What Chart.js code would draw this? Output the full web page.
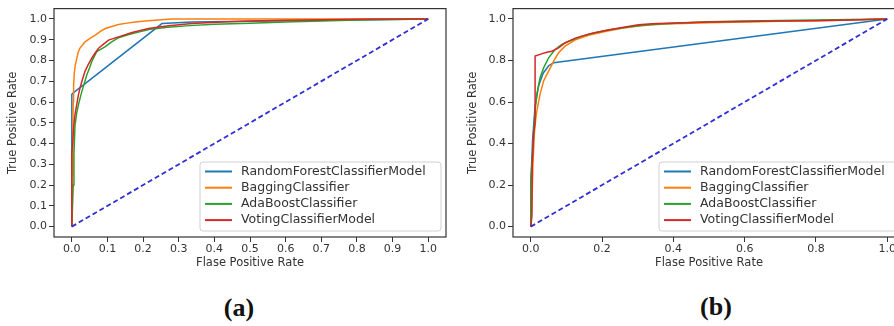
<!DOCTYPE html>
<html>
<head>
<meta charset="utf-8">
<script src="https://cdn.jsdelivr.net/npm/chart.js@4/dist/chart.umd.min.js"></script>
<style>
html, body { margin: 0; padding: 0; width: 894px; height: 326px; overflow: hidden; background: #fff; }
.panel { position: absolute; top: 0; }
.tag { position: absolute; font-family: 'Liberation Serif', 'Times New Roman', serif; font-weight: bold; font-size: 26px; color: #111; line-height: 1; transform: translate(-50%, -50%); }
</style>
</head>
<body>
<div class="panel" style="left:0"><canvas id="rocA" width="460" height="275"></canvas></div>
<div class="panel" style="left:460px"><canvas id="rocB" width="460" height="275"></canvas></div>
<div class="tag" style="left:239px;top:308px">(a)</div>
<div class="tag" style="left:716px;top:307px">(b)</div>
<script>
// Legend names and colours (matplotlib tab10 defaults)
const modelNames = ['RandomForestClassifierModel', 'BaggingClassifier', 'AdaBoostClassifier', 'VotingClassifierModel'];
const modelColors = ['#1f77b4', '#ff7f0e', '#2ca02c', '#d62728'];

// Tick labels
const xTicksA = [0, 0.1, 0.2, 0.3, 0.4, 0.5, 0.6, 0.7, 0.8, 0.9, 1.0];
const yTicksA = [0, 0.1, 0.2, 0.3, 0.4, 0.5, 0.6, 0.7, 0.8, 0.9, 1.0];
const xTicksB = [0, 0.2, 0.4, 0.6, 0.8, 1.0];
const yTicksB = [0, 0.2, 0.4, 0.6, 0.8, 1.0];

// Chance line
const chanceLine = [[0, 0], [1, 1]];

// (a) ROC points [fpr, tpr]
const rfA = [[0, 0], [0, 0.637], [0.005, 0.645], [0.253, 0.978], [0.337, 0.985], [1, 1]];
const bagA = [[0, 0], [0.001, 0.25], [0.003, 0.45], [0.004, 0.6], [0.005, 0.68], [0.007, 0.74], [0.01, 0.78],
  [0.014, 0.81], [0.018, 0.84], [0.023, 0.86], [0.03, 0.875], [0.037, 0.89], [0.05, 0.905], [0.066, 0.922],
  [0.08, 0.94], [0.094, 0.954], [0.11, 0.963], [0.131, 0.973], [0.155, 0.98], [0.178, 0.986], [0.205, 0.99],
  [0.234, 0.994], [0.26, 0.997], [0.281, 1.0], [1, 1]];
const adaA = [[0, 0], [0.002, 0.1], [0.004, 0.2], [0.006, 0.35], [0.009, 0.49], [0.014, 0.55], [0.019, 0.59],
  [0.028, 0.65], [0.035, 0.69], [0.042, 0.73], [0.05, 0.765], [0.056, 0.795], [0.063, 0.82], [0.07, 0.843],
  [0.082, 0.855], [0.094, 0.867], [0.112, 0.89], [0.131, 0.91], [0.16, 0.925], [0.19, 0.938], [0.22, 0.95],
  [0.27, 0.96], [0.33, 0.968], [0.4, 0.975], [0.5, 0.98], [0.6, 0.985], [0.7, 0.99], [0.8, 0.995], [0.9, 0.998], [1, 1]];
const votA = [[0, 0], [0, 0.35], [0.003, 0.42], [0.005, 0.478], [0.009, 0.54], [0.014, 0.59], [0.018, 0.63],
  [0.023, 0.668], [0.03, 0.71], [0.037, 0.748], [0.046, 0.78], [0.056, 0.811], [0.065, 0.835], [0.075, 0.859],
  [0.09, 0.88], [0.103, 0.898], [0.131, 0.914], [0.169, 0.935], [0.215, 0.954], [0.272, 0.967], [0.337, 0.978],
  [0.42, 0.986], [0.5, 0.99], [0.6, 0.994], [0.75, 0.998], [0.85, 1.0], [1, 1]];

// (b) ROC points [fpr, tpr]
const rfB = [[0, 0], [0, 0.2], [0.005, 0.42], [0.012, 0.58], [0.022, 0.68], [0.035, 0.74], [0.05, 0.775], [0.064, 0.789], [1, 1]];
const bagB = [[0, 0], [0.003, 0.1], [0.006, 0.3], [0.01, 0.45], [0.014, 0.52], [0.017, 0.558], [0.026, 0.638],
  [0.036, 0.702], [0.05, 0.749], [0.064, 0.797], [0.078, 0.837], [0.096, 0.869], [0.125, 0.9], [0.162, 0.922],
  [0.209, 0.94], [0.256, 0.955], [0.302, 0.966], [0.34, 0.972], [0.4, 0.977], [0.5, 0.982], [0.6, 0.986],
  [0.7, 0.989], [0.8, 0.992], [0.9, 0.995], [1, 1]];
const adaB = [[0, 0], [0, 0.23], [0.005, 0.35], [0.008, 0.45], [0.012, 0.558], [0.017, 0.638], [0.026, 0.717],
  [0.036, 0.765], [0.05, 0.813], [0.068, 0.853], [0.087, 0.877], [0.11, 0.895], [0.14, 0.915], [0.175, 0.932],
  [0.222, 0.948], [0.269, 0.96], [0.315, 0.97], [0.36, 0.976], [0.42, 0.981], [0.5, 0.987], [0.6, 0.99],
  [0.7, 0.993], [0.8, 0.995], [0.9, 0.997], [1, 1]];
const votB = [[0, 0], [0.003, 0.05], [0.004, 0.3], [0.008, 0.45], [0.012, 0.5], [0.012, 0.821], [0.03, 0.832],
  [0.045, 0.84], [0.059, 0.845], [0.078, 0.861], [0.096, 0.885], [0.125, 0.908], [0.162, 0.927], [0.209, 0.945],
  [0.256, 0.959], [0.302, 0.972], [0.34, 0.977], [0.4, 0.981], [0.5, 0.985], [0.6, 0.988], [0.7, 0.99],
  [0.8, 0.992], [0.9, 0.995], [1, 1]];

Chart.defaults.font.family = '"DejaVu Sans", sans-serif';
Chart.defaults.color = '#333';

// full box around the plot area, like matplotlib spines
const framePlugin = {
  id: 'frame',
  afterDatasetsDraw(chart) {
    const { ctx, chartArea: a } = chart;
    ctx.save();
    ctx.strokeStyle = '#333';
    ctx.lineWidth = 1.2;
    ctx.strokeRect(a.left, a.top, a.right - a.left, a.bottom - a.top);
    ctx.restore();
  }
};

// legend box in the lower right corner of the plot area
const boxLegend = {
  id: 'boxLegend',
  afterDraw(chart, args, opts) {
    const { ctx, chartArea: a } = chart;
    const w = 241, h = 69;
    const x = a.right - 5 - w, y = a.bottom - 6 - h;
    ctx.save();
    ctx.beginPath();
    ctx.roundRect(x, y, w, h, 3);
    ctx.fillStyle = 'rgba(255,255,255,0.85)';
    ctx.fill();
    ctx.strokeStyle = '#d0d0d0';
    ctx.lineWidth = 1;
    ctx.stroke();
    ctx.font = '12.5px "DejaVu Sans"';
    ctx.textBaseline = 'middle';
    opts.labels.forEach((label, i) => {
      const cy = y + 9.5 + i * 16.2;
      ctx.strokeStyle = opts.colors[i];
      ctx.lineWidth = 2;
      ctx.beginPath();
      ctx.moveTo(x + 5, cy);
      ctx.lineTo(x + 32, cy);
      ctx.stroke();
      ctx.fillStyle = '#333';
      ctx.fillText(label, x + 41, cy);
    });
    ctx.restore();
  }
};

function toXY(points) {
  return points.map(([x, y]) => ({ x, y }));
}

function makeRoc(canvasId, curves, xTicks, yTicks, yAxisWidth, padRight) {
  const datasets = curves.map((pts, i) => ({
    label: modelNames[i],
    data: toXY(pts),
    borderColor: modelColors[i],
    borderWidth: 1.5,
    pointRadius: 0,
    tension: 0,
    fill: false,
    order: curves.length - i
  }));
  datasets.push({
    label: 'chance',
    data: toXY(chanceLine),
    borderColor: '#2f2fd8',
    borderWidth: 1.8,
    borderDash: [5, 3],
    pointRadius: 0,
    fill: false,
    order: 0
  });

  return new Chart(document.getElementById(canvasId), {
    type: 'line',
    data: { datasets },
    plugins: [framePlugin, boxLegend],
    options: {
      responsive: false,
      animation: false,
      layout: { padding: { left: 6, top: 7, right: padRight, bottom: 0 } },
      plugins: {
        legend: { display: false },
        tooltip: { enabled: false },
        boxLegend: { labels: modelNames, colors: modelColors }
      },
      scales: {
        x: {
          type: 'linear', min: -0.05, max: 1.05,
          afterBuildTicks: s => { s.ticks = xTicks.map(v => ({ value: v })); },
          afterFit: s => { s.height = 38; },
          ticks: { font: { size: 11 }, padding: 1, callback: v => v.toFixed(1), maxRotation: 0, autoSkip: false },
          grid: { drawOnChartArea: false, drawTicks: true, tickLength: 5, color: '#333' },
          border: { display: false },
          title: { display: true, text: 'Flase Positive Rate', font: { size: 11.5 }, padding: { top: 5, bottom: 5 } }
        },
        y: {
          type: 'linear', min: -0.05, max: 1.05,
          afterBuildTicks: s => { s.ticks = yTicks.map(v => ({ value: v })); },
          afterFit: s => { s.width = yAxisWidth; },
          ticks: { font: { size: 11 }, padding: 2, callback: v => v.toFixed(1), autoSkip: false },
          grid: { drawOnChartArea: false, drawTicks: true, tickLength: 5, color: '#333' },
          border: { display: false },
          title: { display: true, text: 'True Positive Rate', font: { size: 11.5 }, padding: { top: 0, bottom: 0 } }
        }
      }
    }
  });
}

makeRoc('rocA', [rfA, bagA, adaA, votA], xTicksA, yTicksA, 48, 14);
makeRoc('rocB', [rfB, bagB, adaB, votB], xTicksB, yTicksB, 47, 15);
</script>
</body>
</html>
